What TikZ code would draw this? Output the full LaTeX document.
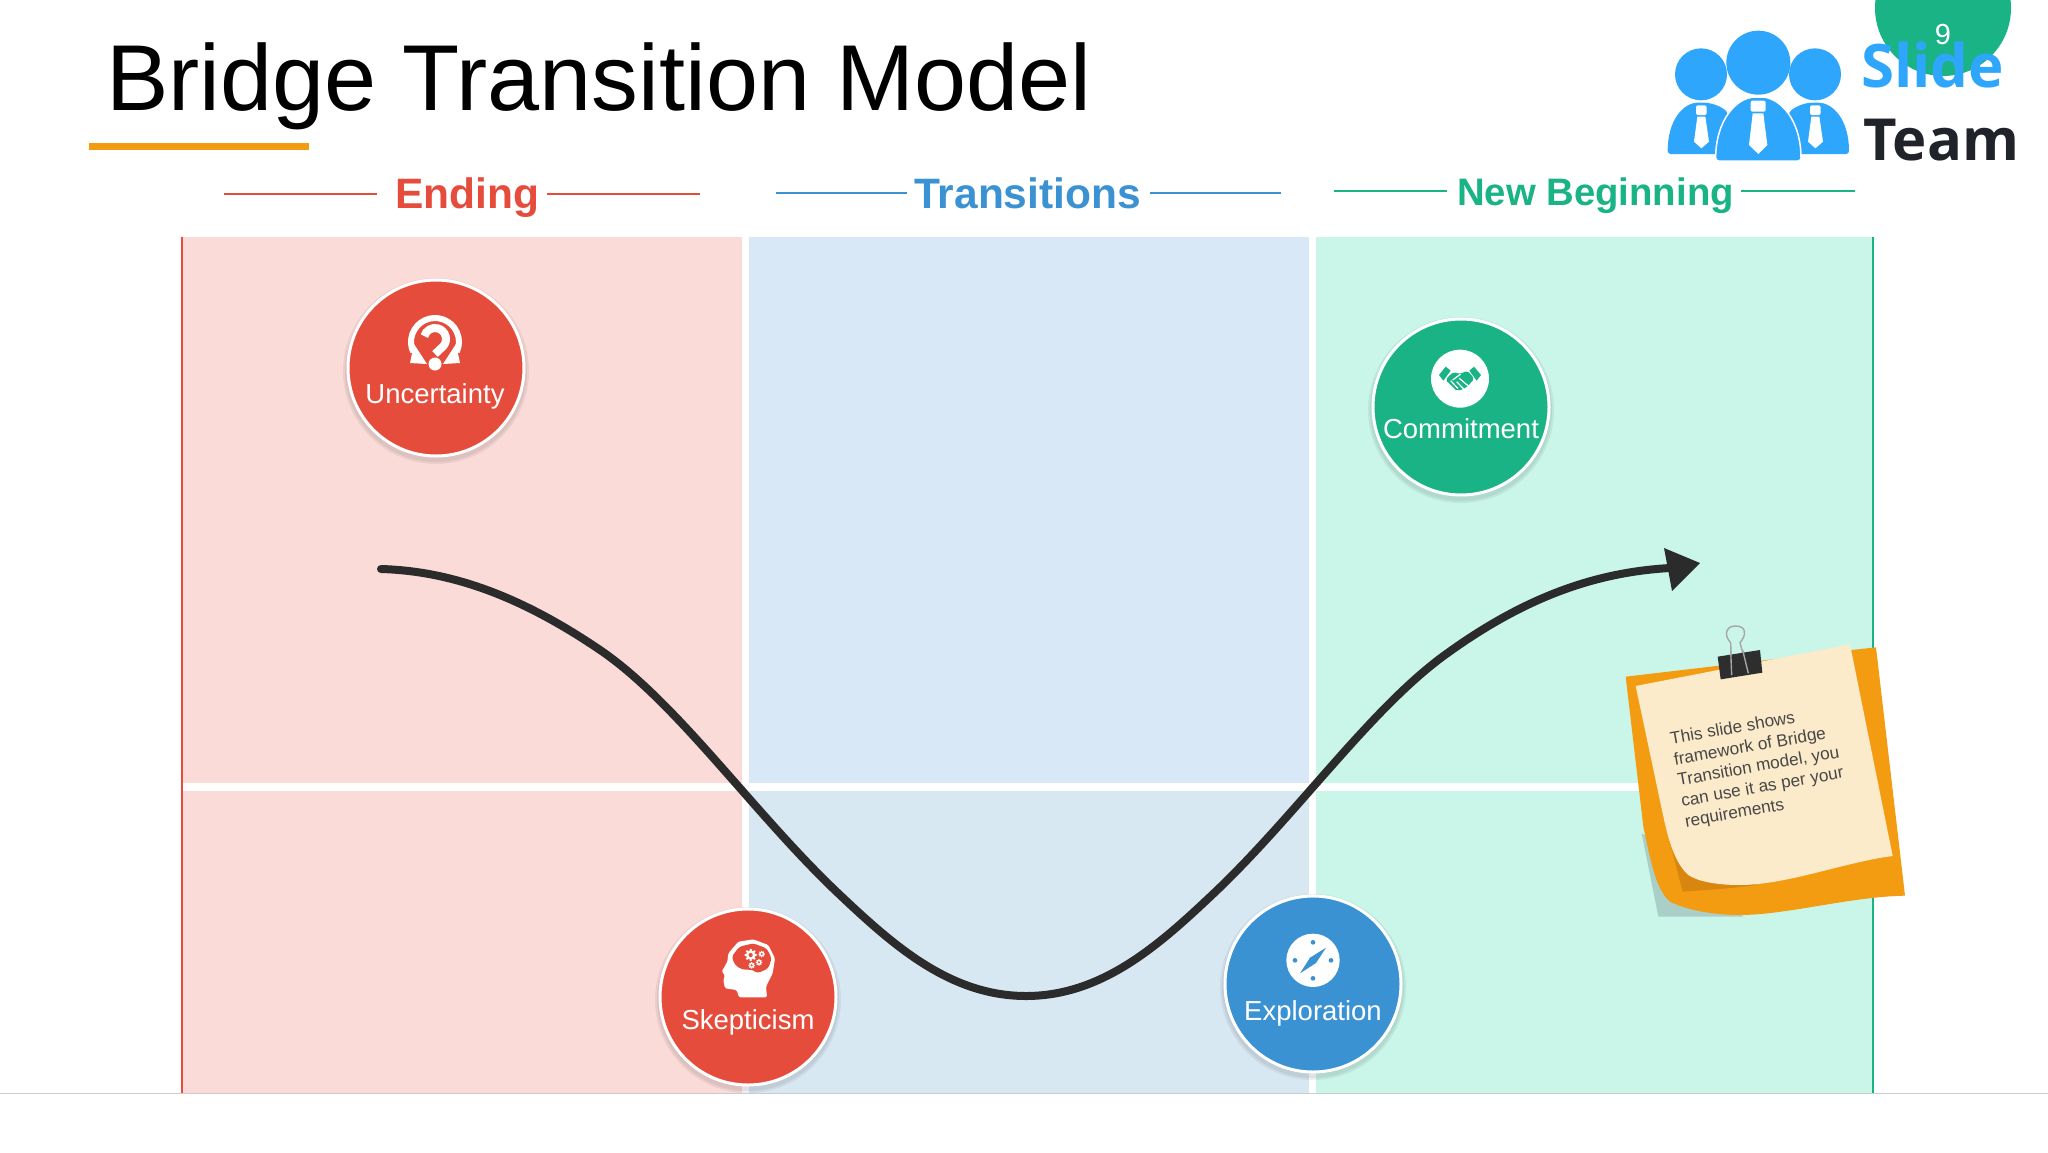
\documentclass[tikz,border=0pt]{standalone}
\usepackage{fontspec}
\setmainfont{Liberation Sans}
\newfontfamily\logofont{Open Sans}
\definecolor{cred}{HTML}{E64C3B}
\definecolor{cblue}{HTML}{3A92D2}
\definecolor{cgreen}{HTML}{1AB385}
\definecolor{pred}{HTML}{FADBD8}
\definecolor{pblue}{HTML}{D8E8F7}
\definecolor{pblueb}{HTML}{D8E8F3}
\definecolor{pgreen}{HTML}{C9F6E9}
\definecolor{logoblue}{HTML}{2EA6FC}
\definecolor{logodark}{HTML}{20242A}
\definecolor{orangeA}{HTML}{F39C12}
\definecolor{orangeB}{HTML}{D8860F}
\definecolor{creamA}{HTML}{FCEBCB}
\definecolor{curvec}{HTML}{2B2B2B}
\definecolor{shadowc}{HTML}{A9CFC8}
\tikzset{
  stagecircle/.style={circle,draw=white,line width=3pt,minimum size=176pt,inner sep=0pt,outer sep=0pt},
  stagelabel/.style={anchor=base,text=white,inner sep=0pt,font=\fontsize{27.5}{30}\selectfont},
  headlabel/.style={anchor=base west,inner sep=0pt,font=\bfseries\fontsize{42.5}{46}\selectfont},
  rulered/.style={draw=cred,line width=2pt},
  ruleblue/.style={draw=cblue,line width=2pt},
  rulegreen/.style={draw=cgreen,line width=2pt},
  softshadow/.style={fill=black,opacity=.06,draw=none},
}
\newcommand{\softdisc}[2]{%
  \fill[softshadow] (#1,#2+3) circle[radius=93];
  \fill[softshadow] (#1,#2+3) circle[radius=91];
}
\newcommand{\gearicon}[3]{%
  \foreach \a in {0,45,...,315}{\fill[white] (#1,#2) ++(\a:#3) circle[radius=#3*.28];}
  \fill[white] (#1,#2) circle[radius=#3*.95];
  \fill[cred] (#1,#2) circle[radius=#3*.42];
}
\begin{document}
\begin{tikzpicture}[x=1pt,y=-1pt]
\useasboundingbox (0,0) rectangle (2048,1152);
\fill[white] (0,0) rectangle (2048,1152);
% panels
\fill[pred] (182,237) rectangle (742,1093);
\fill[pblue] (749,237) rectangle (1309,787);
\fill[pblueb] (749,787) rectangle (1309,1093);
\fill[pgreen] (1316,237) rectangle (1873,1093);
\fill[white] (183,783) rectangle (1640,791);
\draw[cred,line width=2pt] (182,237) -- (182,1093);
\draw[cgreen,line width=2pt] (1873,237) -- (1873,1093);
\draw[black!20,line width=1pt] (0,1093.5) -- (2048,1093.5);
% title
\node[anchor=base west,inner sep=0pt,font=\fontsize{93.6}{100}\selectfont] (title) at (106,110) {Bridge Transition Model};
\fill[orangeA] (89,143) rectangle (309,150);
% headers
\draw[rulered] (224,194) -- (377,194);
\draw[rulered] (547,194) -- (700,194);
\node[headlabel,text=cred] (ending) at (395,208) {Ending};
\draw[ruleblue] (776,193) -- (907,193);
\draw[ruleblue] (1150,193) -- (1281,193);
\node[headlabel,text=cblue] (transitions) at (914,208) {Transitions};
\draw[rulegreen] (1334,191) -- (1447,191);
\draw[rulegreen] (1741,191) -- (1855,191);
\node[headlabel,text=cgreen,font=\bfseries\fontsize{38.3}{42}\selectfont] (newbeginning) at (1457,205) {New Beginning};
% page badge + logo
\fill[cgreen] (1943,8) circle[radius=68];
\begin{scope}[shift={(1600,0)},scale=1/3]
  \fill[logoblue] (475,188) circle[radius=96];
  \fill[logoblue] (303,223) circle[radius=78];
  \fill[logoblue] (645,223) circle[radius=78];
  \fill[logoblue,rounded corners=3pt] (203,462) .. controls (203,360) and (250,308) .. (303,308) .. controls (340,308) and (375,325) .. (385,345) -- (375,462) -- cycle;
  \fill[logoblue,rounded corners=3pt] (747,462) .. controls (747,360) and (700,308) .. (645,308) .. controls (610,308) and (575,325) .. (565,345) -- (575,462) -- cycle;
  \filldraw[fill=logoblue,draw=white,line width=1.5pt,rounded corners=3pt] (347,483) .. controls (347,360) and (410,291) .. (475,291) .. controls (540,291) and (603,360) .. (603,483) -- cycle;
  \fill[white,rounded corners=2pt] (452,302) rectangle (497,335);
  \fill[white] (458,340) -- (490,340) -- (502,435) -- (475,462) -- (447,435) -- cycle;
  \fill[white,rounded corners=2pt] (288,316) rectangle (320,345);
  \fill[white] (292,350) -- (316,350) -- (327,425) -- (304,445) -- (282,425) -- cycle;
  \fill[white,rounded corners=2pt] (630,316) rectangle (662,345);
  \fill[white] (634,350) -- (658,350) -- (669,425) -- (646,445) -- (624,425) -- cycle;
\end{scope}
\node[anchor=base west,inner sep=0pt,text=logoblue,font=\logofont\bfseries\fontsize{60}{62}\selectfont] (logoslide) at (1861,87) {Slide};
\node[anchor=base west,inner sep=0pt,text=logodark,font=\logofont\bfseries\fontsize{58}{60}\selectfont] (logoteam) at (1863,160) {Team};
\node[anchor=base,inner sep=0pt,text=white,font=\fontsize{29}{30}\selectfont] (pagenum) at (1943,44) {9};
% curve
\draw[curvec,line width=8pt,line cap=round,line join=round] (381,569) .. controls (450,571) and (520,595) .. (603,652) .. controls (680,706) and (755,815) .. (840,895) .. controls (893,945) and (950,996) .. (1026,996) .. controls (1102,996) and (1159,945) .. (1212,895) .. controls (1297,815) and (1372,706) .. (1449,652) .. controls (1530,594) and (1600,572) .. (1670,568);
\fill[curvec] (1700,563) -- (1664,548) -- (1672,591) -- cycle;
% stage circles
\softdisc{436}{368}
\node[stagecircle,fill=cred] (uncertainty) at (436,368) {};
\node[stagelabel] (uncertaintytext) at (435,403) {Uncertainty};
\softdisc{748}{997}
\node[stagecircle,fill=cred] (skepticism) at (748,997) {};
\node[stagelabel] (skepticismtext) at (748,1029) {Skepticism};
\softdisc{1313}{984}
\node[stagecircle,fill=cblue] (exploration) at (1313,984) {};
\node[stagelabel] (explorationtext) at (1313,1020) {Exploration};
\softdisc{1461}{407}
\node[stagecircle,fill=cgreen] (commitment) at (1461,407) {};
\node[stagelabel] (commitmenttext) at (1461,438) {Commitment};
% uncertainty icon
\draw[white,line width=6pt] (435,342) ++(-205:24) arc[start angle=-205,end angle=25,radius=24];
\fill[white] (410,363) -- (427,364) -- (414,344) -- cycle;
\fill[white] (460,363) -- (443,364) -- (456,344) -- cycle;
\draw[white,line width=8pt] (435,339) ++(-165:11) arc[start angle=-165,end angle=40,radius=11] -- (435,354);
\fill[white] (435,364) circle[radius=6.5];
% skepticism icon
\begin{scope}[shift={(640,890)},scale=1/3]
  \fill[white,rounded corners=1.5pt] (297,322) -- (381,322) -- (378,290) -- (398,250) -- (405,205) -- (385,165) -- (340,148) -- (295,155) -- (265,190) -- (262,215) -- (245,245) -- (255,255) -- (250,270) -- (255,295) -- (290,300) -- cycle;
  \fill[cred,rounded corners=3pt] (275,200) -- (298,170) -- (340,160) -- (380,175) -- (395,205) -- (385,235) -- (352,250) -- (340,240) -- (305,238) -- (285,225) -- cycle;
  \gearicon{332}{195}{15}
  \gearicon{365}{192}{8}
  \gearicon{357}{217}{8}
  \gearicon{335}{226}{8}
\end{scope}
% exploration icon
\begin{scope}[shift={(1210,880)},scale=1/3]
  \fill[white] (309,241) circle[radius=80];
  \fill[cblue] (309,187) circle[radius=7];
  \fill[cblue] (363,241) circle[radius=7];
  \fill[cblue] (309,295) circle[radius=7];
  \fill[cblue] (255,241) circle[radius=7];
  \fill[cblue] (348,203) -- (318,249) -- (270,280) -- (300,233) -- cycle;
\end{scope}
% commitment icon
\begin{scope}[shift={(1360,310)},scale=1/3]
  \fill[white] (300,206) circle[radius=87];
  \fill[cgreen] (237,195) -- (257,170) -- (272,182) -- (250,212) -- cycle;
  \fill[cgreen] (363,195) -- (342,170) -- (328,182) -- (350,212) -- cycle;
  \fill[cgreen,rounded corners=2pt] (257,208) -- (280,186) -- (300,192) -- (322,182) -- (343,206) -- (320,232) -- (295,243) -- (272,232) -- cycle;
  \draw[white,line width=1.2pt] (278,210) -- (302,192);
  \draw[white,line width=1.2pt] (298,205) -- (325,228);
  \draw[white,line width=1.2pt] (290,215) -- (312,238);
  \draw[white,line width=1.2pt] (262,218) -- (284,240);
  \draw[white,line width=1.2pt] (272,212) -- (294,236);
\end{scope}
% sticky note
\begin{scope}[shift={(1600,600)},scale=1/3]
  \fill[shadowc] (125,700) -- (175,950) -- (430,950) -- (300,800) -- cycle;
  \fill[orangeA] (77,230) -- (357,197) -- (755,150) -- (828,142) -- (915,887) .. controls (750,890) and (560,945) .. (420,945) .. controls (340,945) and (260,930) .. (210,905) .. controls (170,870) and (155,800) .. (130,680) -- cycle;
  \fill[orangeB] (190,650) -- (248,875) .. controls (320,870) and (400,865) .. (470,855) -- (300,760) -- cycle;
  \fill[creamA] (107,258) -- (750,133) -- (878,768) .. controls (740,785) and (560,855) .. (420,855) .. controls (350,855) and (295,845) .. (265,825) .. controls (225,790) and (205,720) .. (190,650) -- cycle;
  \draw[black!35,line width=1.4pt] (395,225) -- (392,128) .. controls (370,105) and (378,78) .. (406,78) .. controls (440,78) and (440,105) .. (420,128) -- (445,220);
  \fill[black!82] (353,170) -- (480,150) -- (487,218) -- (362,238) -- cycle;
  \draw[black!35,line width=1.4pt] (395,225) -- (392,150);
  \draw[black!35,line width=1.4pt] (445,220) -- (428,150);
\end{scope}
\node[anchor=north west,inner sep=0pt,rotate=10,align=left,text=black!72,font=\fontsize{17.2}{21}\selectfont] (notetext) at (1669,732) {This slide shows\\framework of Bridge\\Transition model, you\\can use it as per your\\requirements};
\end{tikzpicture}
\end{document}
